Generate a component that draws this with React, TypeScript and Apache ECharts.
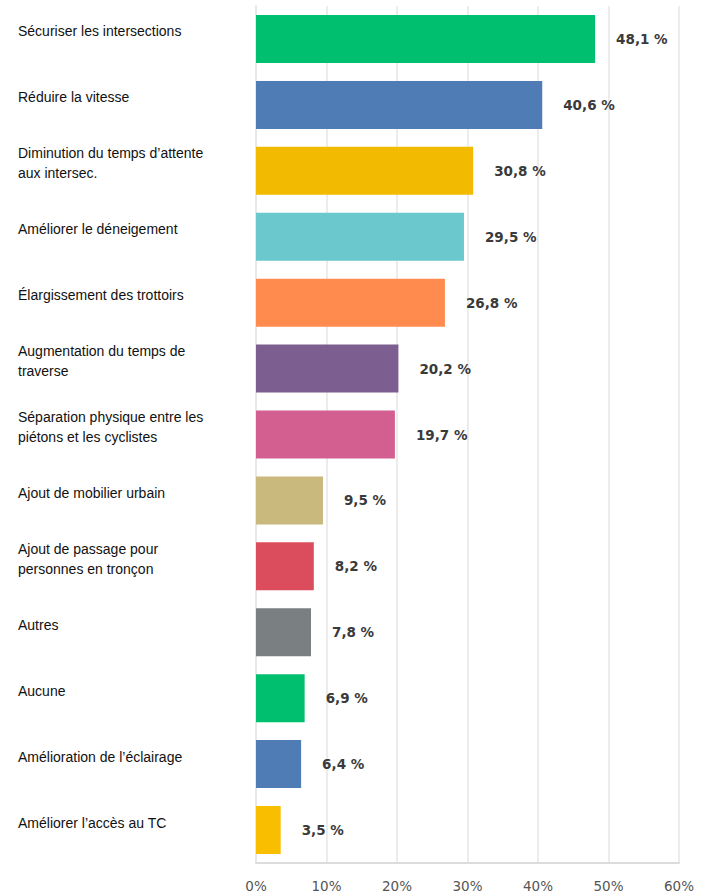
import React, { useEffect, useRef } from "react";
import * as echarts from "echarts";

const categories = [
  "Sécuriser les intersections",
  "Réduire la vitesse",
  "Diminution du temps d’attente\naux intersec.",
  "Améliorer le déneigement",
  "Élargissement des trottoirs",
  "Augmentation du temps de\ntraverse",
  "Séparation physique entre les\npiétons et les cyclistes",
  "Ajout de mobilier urbain",
  "Ajout de passage pour\npersonnes en tronçon",
  "Autres",
  "Aucune",
  "Amélioration de l’éclairage",
  "Améliorer l’accès au TC",
];
const values = [48.1, 40.6, 30.8, 29.5, 26.8, 20.2, 19.7, 9.5, 8.2, 7.8, 6.9, 6.4, 3.5];
const colors = [
  "#00BF6F", "#507CB6", "#F2BA00", "#6BC8CD", "#FF8B4F", "#7D5E90", "#D25F90",
  "#C9B97C", "#DB4D5C", "#7A8082", "#00BF6F", "#507CB6", "#F9BE00",
];
const tickValues = [0, 10, 20, 30, 40, 50, 60];

export default function App() {
  const ref = useRef<HTMLDivElement>(null);
  useEffect(() => {
    const chart = echarts.init(ref.current!, null, { renderer: "svg" });
    chart.setOption({
      animation: false,
      grid: { left: 256, right: 29, top: 6, bottom: 28, containLabel: false },
      xAxis: {
        type: "value",
        min: tickValues[0],
        max: tickValues[tickValues.length - 1],
        interval: 10,
        axisLine: { show: true, lineStyle: { color: "#dcdcdc", width: 2 } },
        axisTick: { show: false },
        splitLine: { show: true, lineStyle: { color: "#ececec", width: 2 } },
        axisLabel: {
          formatter: (v: number) => v + "%",
          color: "#555",
          fontFamily: "DejaVu Sans",
          fontSize: 13.5,
          margin: 16,
        },
      },
      yAxis: {
        type: "category",
        inverse: true,
        data: categories,
        axisLine: { show: true, lineStyle: { color: "#e8e8e8", width: 2 } },
        axisTick: { show: false },
        splitLine: { show: false },
        axisLabel: {
          align: "left",
          margin: 238,
          formatter: (v: string) =>
            v.split("\n").map((l) => "{t|" + l + "}").join("\n") + "\n{s| }",
          rich: {
            t: {
              color: "#111",
              fontFamily: "Liberation Sans",
              fontSize: 14,
              lineHeight: 20,
              align: "left",
            },
            s: { fontSize: 6, lineHeight: 15 },
          },
        },
      },
      series: [
        {
          type: "bar",
          data: values.map((v, i) => ({ value: v, itemStyle: { color: colors[i] } })),
          barWidth: 48,
          label: {
            show: true,
            position: "right",
            distance: 21,
            formatter: (p: any) => String(p.value).replace(".", ",") + " %",
            color: "#3a3a3a",
            fontFamily: "DejaVu Sans",
            fontWeight: "bold",
            fontSize: 13.5,
            padding: [4, 0, 0, 0],
          },
        },
      ],
    });
    return () => chart.dispose();
  }, []);
  return <div ref={ref} style={{ width: 708, height: 893, position: "absolute", left: 0, top: 0 }} />;
}
